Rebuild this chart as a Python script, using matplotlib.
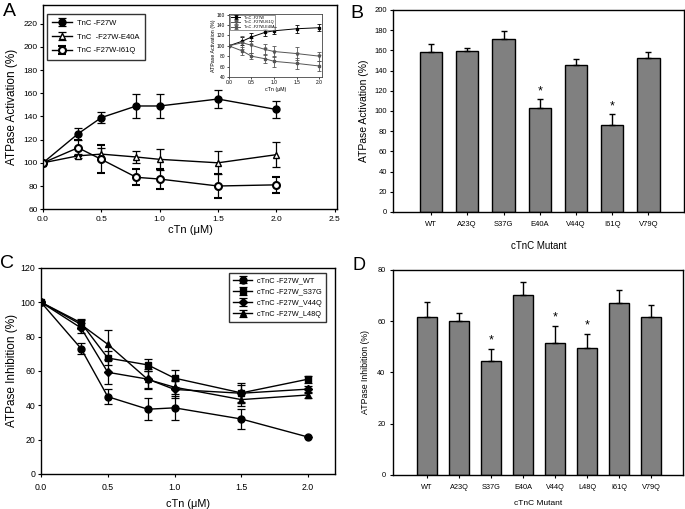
import numpy as np
import matplotlib.pyplot as plt

# Panel A - activation vs cTn
conc = [0, 0.3, 0.5, 0.8, 1.0, 1.5, 2.0]
a_f27w = [100, 125, 139, 149, 149, 155, 146]
a_f27w_err = [0, 5, 5, 10, 10, 8, 7]
a_e40a = [100, 106, 107.5, 105, 103, 100, 107]
a_e40a_err = [0, 2, 5, 5, 9, 10, 11]
a_i61q = [100, 113, 103, 87.5, 86, 80, 81]
a_i61q_err = [0, 7, 12, 7, 9, 10, 7]

# inset of panel A
in_f27w = [100, 109, 117, 126, 129, 133, 135]
in_f27w_err = [0, 8, 8, 7, 7, 8, 7]
in_i61q = [100, 106, 101, 93, 89, 85, 80]
in_i61q_err = [0, 13, 15, 10, 10, 12, 9]
in_e40a = [100, 90, 80, 75, 70, 66, 61]
in_e40a_err = [0, 7, 6, 9, 11, 10, 9]

# Panel B - activation per mutant
b_mutants = ["WT", "A23Q", "S37G", "E40A", "V44Q", "I61Q", "V79Q"]
b_values = [158, 159, 171, 103, 145, 86, 152]
b_errors = [8, 3, 8.5, 8.5, 6, 11, 6.5]
b_signif = [False, False, False, True, False, True, False]

# Panel C - inhibition vs cTn
c_wt = [100, 73, 45, 37.7, 38.5, 32, 21.5]
c_wt_err = [0, 3, 4.5, 6.5, 7, 6, 0]
c_s37g = [100, 88, 67.5, 63.5, 55.8, 47.2, 55.2]
c_s37g_err = [0, 2.5, 4, 3.5, 5, 6, 2]
c_v44q = [100, 85, 59.2, 55.2, 49.2, 47, 49.4]
c_v44q_err = [0, 3, 7, 6, 5, 5, 2]
c_l48q = [100, 87, 75.5, 55, 50.5, 43.3, 46]
c_l48q_err = [0, 2.5, 8.5, 5, 4, 4, 2]

# Panel D - inhibition per mutant
d_mutants = ["WT", "A23Q", "S37G", "E40A", "V44Q", "L48Q", "I61Q", "V79Q"]
d_values = [61.6, 60, 44.4, 70.2, 51.3, 49.6, 67, 61.6]
d_errors = [5.9, 3.3, 4.8, 5.2, 6.8, 5.4, 5.1, 4.6]
d_signif = [False, False, True, False, True, True, False, False]

plt.rcParams['font.family'] = ['Liberation Sans', 'DejaVu Sans']


def style(ax, size, ypad):
    ax.tick_params(direction='out', length=2.2, width=0.8, labelsize=size,
                   top=False, right=False)
    ax.tick_params(axis='y', pad=ypad)
    for s in ax.spines.values():
        s.set_linewidth(1.0)


def bars(ax, names, vals, errs, signif, width, offset):
    x = np.arange(len(names))
    ax.bar(x, vals, width=width, color='#808080', edgecolor='black',
           linewidth=1.0, zorder=2)
    ax.errorbar(x, vals, yerr=[np.zeros(len(vals)), errs], fmt='none',
                ecolor='black', elinewidth=1.0, capsize=2.5, capthick=1.0,
                zorder=3)
    for xi, v, e, s in zip(x, vals, errs, signif):
        if s:
            ax.text(xi, v + e + offset, "*", ha='center', va='bottom',
                    fontsize=9)
    ax.set_xticks(x)
    ax.set_xticklabels(names)


fig = plt.figure(figsize=(6.85, 5.09), dpi=100)

# ---- A ----
axA = fig.add_axes([0.0628, 0.589, 0.429, 0.401])
eb = dict(elinewidth=0.9, capsize=3, capthick=0.9, ecolor='black',
          color='black', lw=1.0, ms=5)
axA.errorbar(conc, a_f27w, yerr=a_f27w_err, marker='o', mfc='black',
             mec='black', label="TnC -F27W", **eb)
axA.errorbar(conc, a_e40a, yerr=a_e40a_err, marker='^', mfc='white',
             mec='black', label="TnC  -F27W-E40A", **eb)
axA.errorbar(conc, a_i61q, yerr=a_i61q_err, marker='o', mfc='white',
             mec='black', mew=1.5, label="TnC -F27W-I61Q", **eb)
axA.set_xlim(0, 2.52)
axA.set_ylim(60, 236)
axA.set_xticks([0, 0.5, 1.0, 1.5, 2.0, 2.5])
axA.set_yticks(np.arange(60, 221, 20))
axA.set_xlabel("cTn (\u03bcM)", fontsize=8, labelpad=1)
axA.set_ylabel("ATPase Activation (%)", fontsize=8.5, labelpad=4)
style(axA, 6, 1.5)
axA.tick_params(axis='x', pad=3)
lg = axA.legend(loc='upper left', bbox_to_anchor=(0.014, 0.956),
                borderaxespad=0, fontsize=5.5, frameon=True, fancybox=False,
                edgecolor='black', handlelength=2.6, labelspacing=0.85,
                borderpad=0.7, handletextpad=0.6)
lg.get_frame().set_linewidth(1.0)
fig.text(0.004, 0.995, "A", fontsize=14, va='top')

# inset
axI = fig.add_axes([0.334, 0.849, 0.136, 0.124])
ie = dict(elinewidth=0.6, capsize=1.5, capthick=0.6, lw=0.7, ms=2)
axI.errorbar(conc, in_f27w, yerr=in_f27w_err, marker='s', color='black',
             ecolor='black', label="TnC -F27W", **ie)
axI.errorbar(conc, in_i61q, yerr=in_i61q_err, marker='v', color='#555555',
             ecolor='#555555', label="TnC -F27W-I61Q", **ie)
axI.errorbar(conc, in_e40a, yerr=in_e40a_err, marker='s', color='#555555',
             ecolor='#555555', label="TnC -F27W-E40A", **ie)
axI.set_xlim(0, 2.06)
axI.set_ylim(40, 162)
axI.set_xticks([0, 0.5, 1.0, 1.5, 2.0])
axI.set_yticks(np.arange(40, 161, 20))
axI.tick_params(direction='out', length=1.5, width=0.5, labelsize=3.5,
                pad=1)
axI.set_xlabel("cTn (\u03bcM)", fontsize=3.8, labelpad=1)
axI.set_ylabel("ATPase Activation (%)", fontsize=3.8, labelpad=1)
for s in axI.spines.values():
    s.set_linewidth(0.6)
    s.set_color('#444444')
li = axI.legend(loc='upper left', fontsize=2.8, frameon=True, fancybox=False,
                edgecolor='#444444', borderaxespad=0.2, handlelength=2.5,
                labelspacing=0.2, borderpad=0.3)
li.get_frame().set_linewidth(0.5)

# ---- B ----
axB = fig.add_axes([0.5737, 0.5835, 0.4248, 0.397])
bars(axB, b_mutants, b_values, b_errors, b_signif, 0.616, 2)
axB.set_xlim(-1.05, 6.98)
axB.set_ylim(0, 200)
axB.set_yticks(np.arange(0, 201, 20))
axB.set_xlabel("cTnC Mutant", fontsize=7, labelpad=9)
axB.set_ylabel("ATPase Activation (%)", fontsize=7.5, labelpad=4)
style(axB, 5.5, 2)
axB.tick_params(axis='x', pad=4.5)
fig.text(0.512, 0.99, "B", fontsize=14, va='top')

# ---- C ----
axC = fig.add_axes([0.0598, 0.0688, 0.429, 0.405])
ce = dict(elinewidth=0.9, capsize=3, capthick=0.9, ecolor='black',
          color='black', lw=1.0)
axC.errorbar(conc, c_wt, yerr=c_wt_err, marker='o', ms=5,
             label="cTnC -F27W_WT", **ce)
axC.errorbar(conc, c_s37g, yerr=c_s37g_err, marker='s', ms=5,
             label="cTnC -F27W_S37G", **ce)
axC.errorbar(conc, c_v44q, yerr=c_v44q_err, marker='D', ms=4.5,
             label="cTnC -F27W_V44Q", **ce)
axC.errorbar(conc, c_l48q, yerr=c_l48q_err, marker='^', ms=5,
             label="cTnC -F27W_L48Q", **ce)
axC.set_xlim(0, 2.2)
axC.set_ylim(0, 120)
axC.set_xticks([0, 0.5, 1.0, 1.5, 2.0])
axC.set_xticklabels(["0.0", "0.5", "1.0", "1.5", "2.0"])
axC.set_yticks(np.arange(0, 121, 20))
axC.set_xlabel("cTn (\u03bcM)", fontsize=7.8, labelpad=5)
axC.set_ylabel("ATPase Inhibition (%)", fontsize=8.5, labelpad=2)
style(axC, 6.3, 2)
axC.tick_params(axis='x', pad=4)
lc = axC.legend(loc='upper right', bbox_to_anchor=(0.969, 0.976),
                borderaxespad=0, fontsize=5.3, frameon=True, fancybox=False,
                edgecolor='black', handlelength=2.6, labelspacing=0.55,
                borderpad=0.6, handletextpad=0.6)
lc.get_frame().set_linewidth(1.0)
fig.text(0.0, 0.5, "C", fontsize=14, va='top')

# ---- D ----
axD = fig.add_axes([0.5733, 0.0668, 0.4237, 0.403])
bars(axD, d_mutants, d_values, d_errors, d_signif, 0.6, 1)
axD.set_xlim(-1.07, 8.0)
axD.set_ylim(0, 80)
axD.set_yticks(np.arange(0, 81, 20))
axD.set_xlabel("cTnC Mutant", fontsize=6, labelpad=6)
axD.set_ylabel("ATPase Inhibition (%)", fontsize=6.3, labelpad=5)
style(axD, 5.3, 3)
axD.tick_params(axis='x', pad=4.5)
fig.text(0.514, 0.495, "D", fontsize=13, va='top')

fig.savefig("out.png", dpi=100)
